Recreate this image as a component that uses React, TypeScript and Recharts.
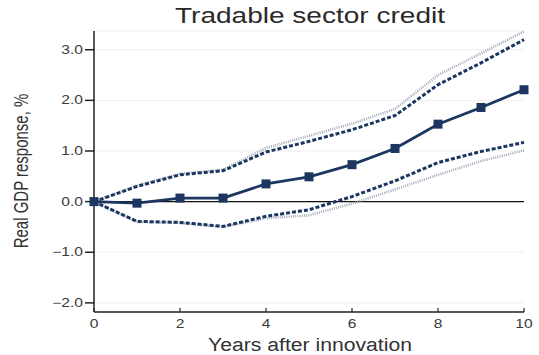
import React from 'react';
import {
  LineChart,
  Line,
  XAxis,
  YAxis,
  CartesianGrid,
  ReferenceLine
} from 'recharts';

// Impulse response of real GDP to a tradable sector credit shock
const years = [0, 1, 2, 3, 4, 5, 6, 7, 8, 9, 10];
const response = [0, -0.03, 0.07, 0.07, 0.35, 0.49, 0.73, 1.05, 1.53, 1.86, 2.21];
const upperInner = [0, 0.3, 0.53, 0.61, 0.98, 1.19, 1.42, 1.7, 2.31, 2.74, 3.2];
const lowerInner = [0, -0.39, -0.41, -0.49, -0.29, -0.16, 0.1, 0.41, 0.77, 0.99, 1.17];
const upperOuter = [0, 0.32, 0.55, 0.63, 1.06, 1.3, 1.54, 1.83, 2.5, 2.93, 3.36];
const lowerOuter = [0, -0.4, -0.42, -0.5, -0.33, -0.27, -0.04, 0.24, 0.53, 0.8, 1.01];

const xTicks = [0, 2, 4, 6, 8, 10];
const yTicks = [-2, -1, 0, 1, 2, 3];

const data = years.map((year, i) => ({
  year,
  response: response[i],
  upperInner: upperInner[i],
  lowerInner: lowerInner[i],
  upperOuter: upperOuter[i],
  lowerOuter: lowerOuter[i]
}));

const FONT = '"Liberation Sans", Arial, Helvetica, sans-serif';
const NAVY = '#1b365f';
const STRETCH = 'scale(1.3,1)';

const fmtY = (v: number) => (v < 0 ? '\u2212' + Math.abs(v).toFixed(1) : v.toFixed(1));

const YTick = ({ x, y, payload }: any) => (
  <g transform={`translate(${x},${y})`}>
    <text transform={STRETCH} x={0} y={0} dy={4} textAnchor="end" fontSize={12} fill="#3a3a3a" fontFamily={FONT}>
      {fmtY(payload.value)}
    </text>
  </g>
);

const XTick = ({ x, y, payload }: any) => (
  <g transform={`translate(${x},${y})`}>
    <line x1={0} y1={-4} x2={0} y2={0} stroke="#222" strokeWidth={1.2} />
    <text transform={STRETCH} x={0} y={16} textAnchor="middle" fontSize={12} fill="#3a3a3a" fontFamily={FONT}>
      {payload.value}
    </text>
  </g>
);

const Square = ({ cx, cy }: any) => (
  <rect x={cx - 4.5} y={cy - 4.5} width={9} height={9} fill={NAVY} />
);

const App: React.FC = () => (
  <div style={{ position: 'absolute', left: 0, top: 0, width: 539, height: 355, background: '#fff' }}>
    <LineChart width={539} height={355} data={data} margin={{ top: 31, right: 15, bottom: 13, left: 34 }}>
      <CartesianGrid vertical={false} stroke="#efefef" strokeWidth={1} />
      <XAxis
        dataKey="year"
        type="number"
        domain={[0, 10]}
        ticks={xTicks}
        height={30}
        stroke="#222"
        strokeWidth={1.5}
        tickLine={false}
        tickSize={0}
        tickMargin={0}
        tick={<XTick />}
      />
      <YAxis
        type="number"
        domain={[-2.18, 3.37]}
        ticks={yTicks}
        allowDataOverflow
        width={60}
        stroke="#222"
        strokeWidth={1.5}
        tickSize={9}
        tickMargin={2}
        tick={<YTick />}
      />
      <ReferenceLine y={0} stroke="#111" strokeWidth={1.2} />
      <Line
        dataKey="upperOuter"
        stroke="#a0a8b8"
        strokeWidth={2.5}
        strokeDasharray="1 1.2"
        dot={false}
        isAnimationActive={false}
      />
      <Line
        dataKey="lowerOuter"
        stroke="#a0a8b8"
        strokeWidth={2.5}
        strokeDasharray="1 1.2"
        dot={false}
        isAnimationActive={false}
      />
      <Line
        dataKey="upperInner"
        stroke={NAVY}
        strokeWidth={3}
        strokeDasharray="4 2"
        dot={false}
        isAnimationActive={false}
      />
      <Line
        dataKey="lowerInner"
        stroke={NAVY}
        strokeWidth={3}
        strokeDasharray="4 2"
        dot={false}
        isAnimationActive={false}
      />
      <Line
        dataKey="response"
        stroke={NAVY}
        strokeWidth={2.8}
        dot={<Square />}
        isAnimationActive={false}
      />
      <text x={310} y={23} textAnchor="middle" fontSize={22} fill="#2a2a2a" fontFamily={FONT} textLength={270} lengthAdjust="spacingAndGlyphs">
        Tradable sector credit
      </text>
      <text x={310} y={351} textAnchor="middle" fontSize={18} fill="#333" fontFamily={FONT} textLength={204} lengthAdjust="spacingAndGlyphs">
        Years after innovation
      </text>
      <text transform="translate(28,171) rotate(-90) scale(1,1.3)" textAnchor="middle" fontSize={15} fill="#333" fontFamily={FONT}>
        Real GDP response, %
      </text>
    </LineChart>
  </div>
);

export default App;
